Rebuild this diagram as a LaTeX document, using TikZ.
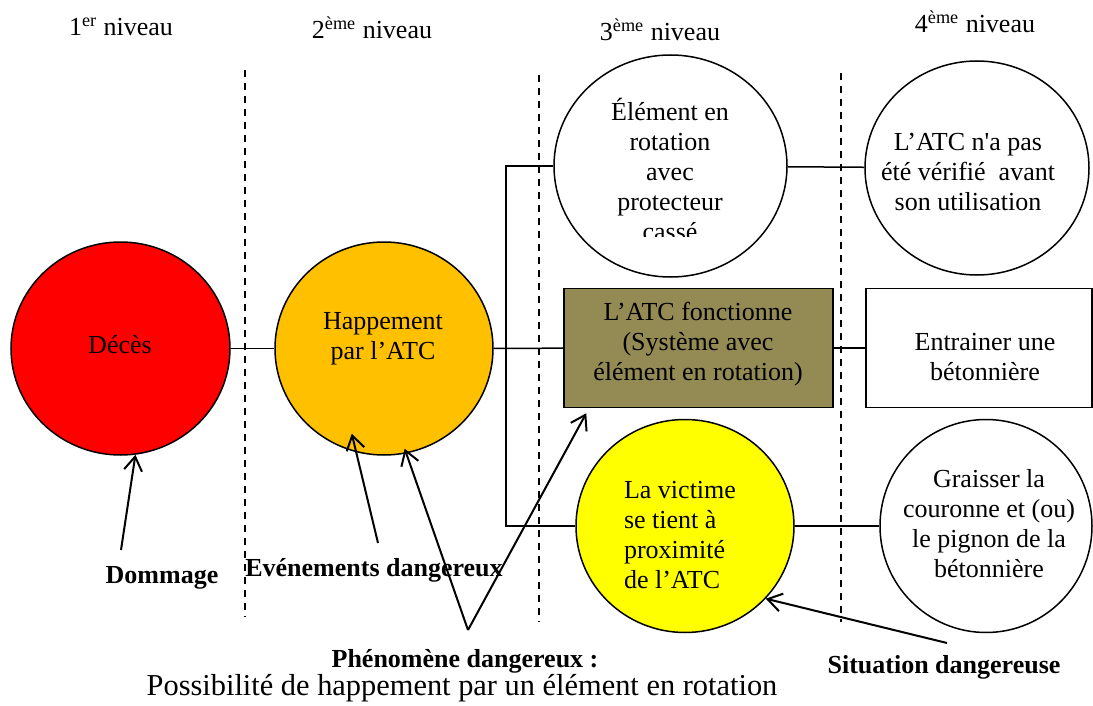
\documentclass[tikz,border=0pt]{standalone}
\usepackage{fontspec}
\setmainfont{Liberation Serif}
\usetikzlibrary{shapes.geometric,arrows.meta}

\definecolor{rouge}{HTML}{FF0000}
\definecolor{ambre}{HTML}{FFC000}
\definecolor{kaki}{HTML}{948A54}
\definecolor{jaune}{HTML}{FFFF00}

\tikzset{
  bulle/.style={draw, ellipse, line width=0.75pt, inner sep=0pt},
  boite/.style={draw, rectangle, line width=0.75pt, inner sep=0pt},
  txt/.style={align=center, inner sep=0pt, font=\fontsize{13}{15}\selectfont},
  titre/.style={txt, font=\fontsize{13}{15}\selectfont\bfseries},
  lien/.style={line width=0.75pt},
  fleche/.style={line width=1pt, -{Straight Barb[length=7pt,width=9pt]}},
  limite/.style={line width=0.75pt, dash pattern=on 3.5pt off 3pt},
}

\begin{document}
\begin{tikzpicture}[x=0.5pt, y=-0.5pt]
  \useasboundingbox (0,0) rectangle (1093,706);

  % niveaux
  \node [txt] (niv1) at (121,27) {1\textsuperscript{er} niveau};
  \node [txt] (niv2) at (372,28) {2\textsuperscript{ème} niveau};
  \node [txt] (niv3) at (660,30) {3\textsuperscript{ème} niveau};
  \node [txt] (niv4) at (975,22) {4\textsuperscript{ème} niveau};

  \draw [limite] (245,70) -- (245,617);
  \draw [limite] (539,75) -- (539,622);
  \draw [limite] (841,73) -- (841,622);

  % formes
  \node [bulle, fill=rouge, minimum width=109.5pt, minimum height=106.5pt] (deces) at (120.5,348.5) {};
  \node [bulle, fill=ambre, minimum width=109pt, minimum height=106.5pt] (happ) at (384,348.5) {};
  \node [bulle, minimum width=116.5pt, minimum height=111pt] (elem) at (670.5,166) {};
  \node [bulle, minimum width=112pt, minimum height=107pt] (verif) at (977,168) {};
  \node [boite, fill=kaki, minimum width=134.5pt, minimum height=59.5pt] (fonct) at (698.5,348) {};
  \node [boite, minimum width=113pt, minimum height=59.5pt] (entr) at (979,348) {};
  \node [bulle, fill=jaune, minimum width=109pt, minimum height=106.5pt] (vict) at (685,526) {};
  \node [bulle, minimum width=106pt, minimum height=106.5pt] (grais) at (986,526) {};

  % liens
  \coordinate (fourche) at (506,348);
  \draw [lien] (deces) -- (happ);
  \draw [lien] (happ) -- (fonct);
  \draw [lien] (elem) -| (fourche) |- (vict);
  \draw [lien] (elem) -- (verif);
  \draw [lien] (fonct) -- (entr);
  \draw [lien] (vict) -- (grais);

  % textes
  \node [txt] (tdeces) at (120,345) {Décès};
  \node [txt] (thapp) at (383,339) {Happement\\par l’ATC};
  \begin{scope}
    \clip (550,40) rectangle (790,236);
    \node [txt] (telem) at (670,169) {Élément en\\rotation\\avec\\protecteur\\cassé};
  \end{scope}
  \node [txt] (tverif) at (968,172) {L’ATC n\textquotesingle a pas\\été vérifié \ avant\\son utilisation};
  \node [txt] (tfonct) at (698,344) {L’ATC fonctionne\\(Système avec\\élément en rotation)};
  \node [txt] (tentr) at (985,357) {Entrainer une\\bétonnière};
  \node [txt, align=left] (tvict) at (680,535) {La victime\\se tient à\\proximité\\de l’ATC};
  \node [txt] (tgrais) at (989,524) {Graisser la\\couronne et (ou)\\le pignon de la\\bétonnière};

  % etiquettes
  \node [titre] (ldom) at (162,578) {Dommage};
  \node [titre] (levt) at (374,570) {Evénements dangereux};
  \node [titre] (lphen) at (465,661) {Phénomène dangereux :};
  \node [txt, font=\fontsize{15.2}{17}\selectfont] (lposs) at (462,688) {Possibilité de happement par un élément en rotation};
  \node [titre] (lsit) at (944,667) {Situation dangereuse};

  % fleches
  \coordinate (dom) at (121,550);
  \coordinate (evt) at (378,543);
  \coordinate (phen) at (468,630);
  \coordinate (sit) at (947,643);
  \draw [fleche] (dom) -- (deces.-82.5);
  \draw [fleche, shorten >=-9.5pt] (evt) -- (happ.-105);
  \draw [fleche, shorten >=-2.5pt] (phen) -- (happ.-78.6);
  \draw [fleche] (phen) -- ([shift={(23,5)}]fonct.south west);
  \draw [fleche] (sit) -- (vict.-42);
\end{tikzpicture}
\end{document}
